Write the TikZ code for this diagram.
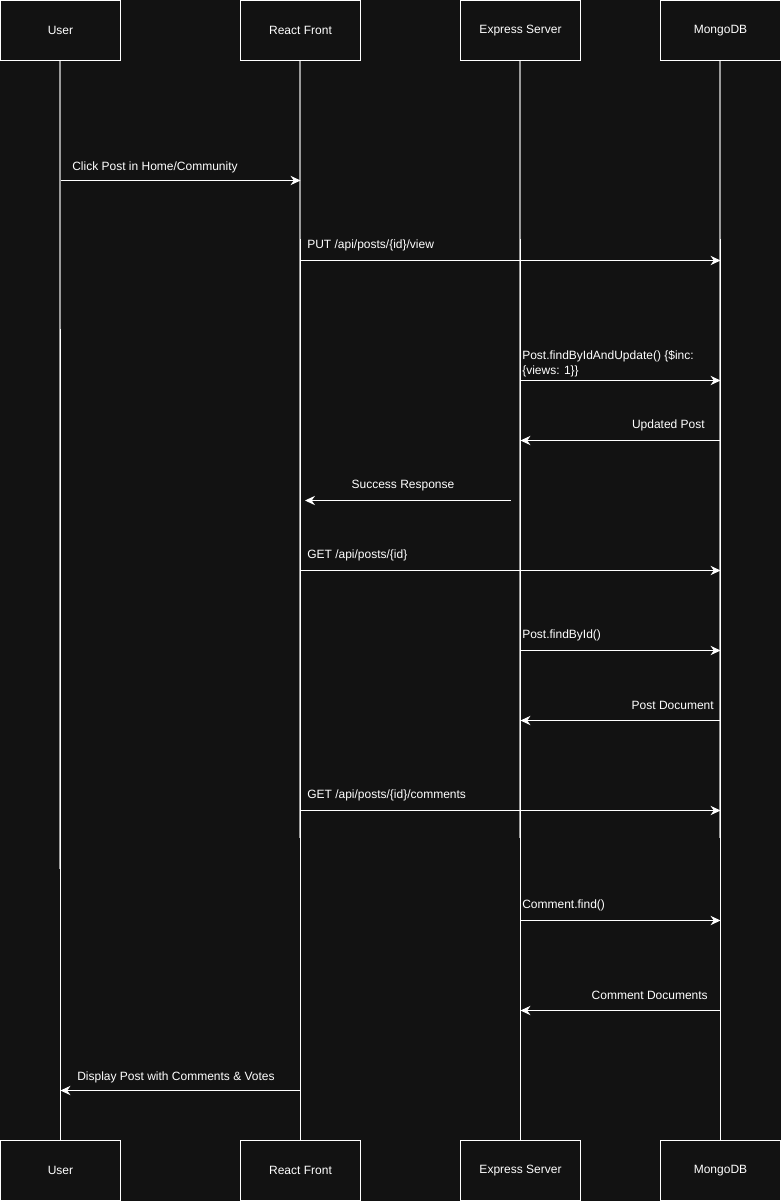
\documentclass[tikz,border=0pt]{standalone}
\usepackage{fontspec}
\setmainfont{Liberation Sans}
\usetikzlibrary{arrows.meta}
\definecolor{bg}{HTML}{121212}
\definecolor{lifegray}{HTML}{9A9A9A}
\tikzset{
  actor/.style={draw=white, fill=bg, line width=0.75pt, minimum width=90pt, minimum height=45pt, inner sep=0pt, text=white, font=\fontsize{9}{11}\selectfont},
  msg/.style={draw=white, line width=0.75pt, -{Stealth[length=7.5pt,width=7pt,inset=2.5pt]}},
  lbl/.style={text=white, font=\fontsize{9}{11}\selectfont, inner sep=0pt},
  graylife/.style={draw=lifegray, line width=1.5pt},
  whitelife/.style={draw=white, line width=0.75pt}
}
\begin{document}
\begin{tikzpicture}[x=0.75pt,y=-0.75pt]
\fill[bg] (0,0) rectangle (781,1201);
\useasboundingbox (0,0) rectangle (781,1201);
% lifelines
\draw[graylife] (59.6,60) -- (59.6,869);
\draw[whitelife] (60.6,329) -- (60.6,1140);
\draw[graylife] (299.6,60) -- (299.6,838);
\draw[whitelife] (300.6,239) -- (300.6,1140);
\draw[graylife] (519.6,60) -- (519.6,838);
\draw[whitelife] (520.6,239) -- (520.6,1140);
\draw[graylife] (719.6,60) -- (719.6,838);
\draw[whitelife] (720.6,239) -- (720.6,1140);
% actor boxes
\node[actor] (uT) at (60.5,30.5) {User};
\node[actor] (rT) at (300.5,30.5) {React Front};
\node[actor] (eT) at (520.5,30.5) {Express Server};
\node[actor] (mT) at (720.5,30.5) {MongoDB};
\node[actor] (uB) at (60.5,1170.5) {User};
\node[actor] (rB) at (300.5,1170.5) {React Front};
\node[actor] (eB) at (520.5,1170.5) {Express Server};
\node[actor] (mB) at (720.5,1170.5) {MongoDB};
% message endpoints
\coordinate (m1a) at (60.5,180.5);  \coordinate (m1b) at (300.5,180.5);
\coordinate (m2a) at (300.5,260.5); \coordinate (m2b) at (720.5,260.5);
\coordinate (m3a) at (520.5,380.5); \coordinate (m3b) at (720.5,380.5);
\coordinate (m4a) at (720.5,440.5); \coordinate (m4b) at (520.5,440.5);
\coordinate (m5a) at (510.5,500.5); \coordinate (m5b) at (305,500.5);
\coordinate (m6a) at (300.5,570.5); \coordinate (m6b) at (720.5,570.5);
\coordinate (m7a) at (520.5,650.5); \coordinate (m7b) at (720.5,650.5);
\coordinate (m8a) at (720.5,720.5); \coordinate (m8b) at (520.5,720.5);
\coordinate (m9a) at (300.5,810.5); \coordinate (m9b) at (720.5,810.5);
\coordinate (m10a) at (520.5,920.5); \coordinate (m10b) at (720.5,920.5);
\coordinate (m11a) at (720.5,1010.5); \coordinate (m11b) at (520.5,1010.5);
\coordinate (m12a) at (300.5,1090.5); \coordinate (m12b) at (60.5,1090.5);
% messages
\draw[msg] (m1a) -- (m1b);
\draw[msg] (m2a) -- (m2b);
\draw[msg] (m3a) -- (m3b);
\draw[msg] (m4a) -- (m4b);
\draw[msg] (m5a) -- (m5b);
\draw[msg] (m6a) -- (m6b);
\draw[msg] (m7a) -- (m7b);
\draw[msg] (m8a) -- (m8b);
\draw[msg] (m9a) -- (m9b);
\draw[msg] (m10a) -- (m10b);
\draw[msg] (m11a) -- (m11b);
\draw[msg] (m12a) -- (m12b);
% labels
\node[lbl, anchor=west] (l1) at (72,167.5) {Click Post in Home/Community};
\node[lbl, anchor=west] (l2) at (307,245.5) {PUT /api/posts/\{id\}/view};
\node[lbl, anchor=west, align=left] (l3) at (522,364) {Post.findByIdAndUpdate() \{\$inc:\\\{views: 1\}\}};
\node[lbl, anchor=east] (l4) at (705,425.5) {Updated Post};
\node[lbl] (l5) at (403,485.5) {Success Response};
\node[lbl, anchor=west] (l6) at (307,555.5) {GET /api/posts/\{id\}};
\node[lbl, anchor=west] (l7) at (522,635.5) {Post.findById()};
\node[lbl, anchor=east] (l8) at (714,705.5) {Post Document};
\node[lbl, anchor=west] (l9) at (307,795.5) {GET /api/posts/\{id\}/comments};
\node[lbl, anchor=west] (l10) at (522,905.5) {Comment.find()};
\node[lbl, anchor=east] (l11) at (708,995.5) {Comment Documents};
\node[lbl, anchor=west] (l12) at (77,1077) {Display Post with Comments \& Votes};
\end{tikzpicture}
\end{document}
